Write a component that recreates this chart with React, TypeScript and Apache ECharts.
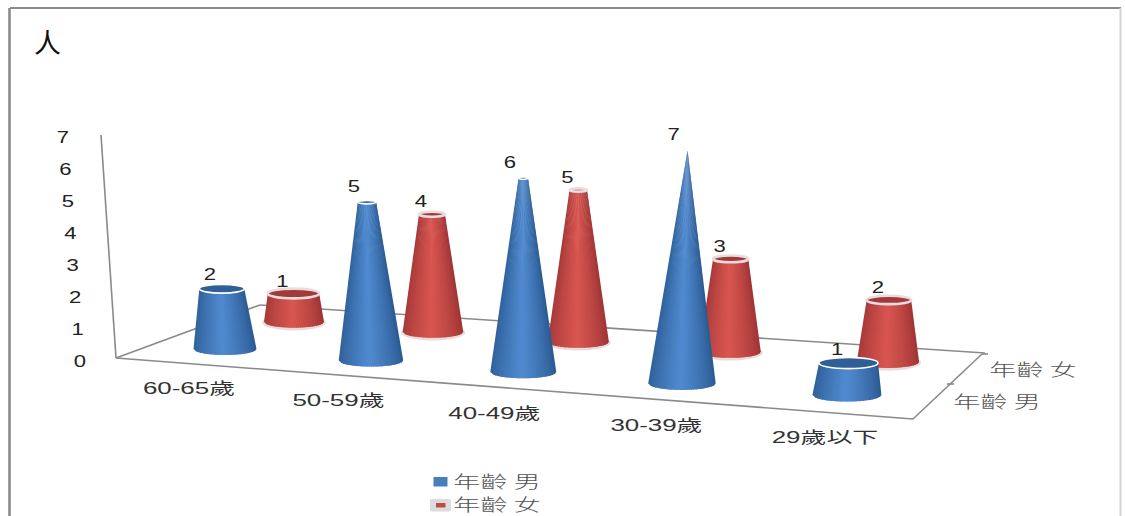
import React, { useEffect, useRef } from "react";
import * as echarts from "echarts";

const categories = ["60-65歲", "50-59歲", "40-49歲", "30-39歲", "29歲以下"];
const maleValues = [2, 5, 6, 7, 1];
const femaleValues = [1, 4, 5, 3, 2];
const seriesNames = ["年齡 男", "年齡 女"];
const valueTicks = [0, 1, 2, 3, 4, 5, 6, 7];
const MAX_VALUE = 7;

const FONT = '"Liberation Sans", "Noto Sans CJK TC", sans-serif';
const CJK = '"Noto Sans CJK TC", sans-serif';

type Palette = { edge: number[]; mid: number[]; cap: string; rim: string; rimW: number; halo: string | null };
const BLUE: Palette = { edge: [44, 92, 148], mid: [80, 138, 208], cap: "#2f5f96", rim: "#ffffff", rimW: 1.6, halo: null };
const RED: Palette = { edge: [160, 54, 54], mid: [217, 86, 80], cap: "#a23a3a", rim: "#eadcdc", rimW: 2.6, halo: "#eadcdc" };

// perspective foreshortening of heights along the floor, front row and back row
const FRONT_SCALE = [0.94, 0.99, 1.01, 1.04, 1];
const BACK_SCALE = [0.89, 0.92, 0.95, 0.97, 0.97];

const mix = (a: number[], b: number[], t: number) =>
  `rgb(${a.map((v, k) => Math.round(v + (b[k] - v) * t)).join(",")})`;

// the floor is in perspective: each category's slot on the axis is bent and sheared by depth
const floorPoint = (axisX: number, axisY: number, i: number, back: boolean) => {
  const x = axisX + 3.17 * i * i - 12.2 * i;
  return back
    ? { x: x + 69 - 7 * i, y: axisY - 38 + 10 * i }
    : { x, y: axisY - 11 + 11.5 * i };
};

const coneItem = (back: boolean, pal: Palette) => (_p: any, api: any) => {
  const i = api.value(0);
  const v = api.value(1);
  const [ax, ay] = api.coord([i, 0]);
  const base = floorPoint(ax, ay, i, back);
  const h = api.size([0, v])[1] * (back ? BACK_SCALE[i] : FRONT_SCALE[i]);
  const rb = back ? 30 + 0.3 * i : 31.5 + 0.75 * i;
  const ryb = rb * 0.19;
  const rt = rb * (1 - v / MAX_VALUE);
  const ryt = rt * 0.19;
  const tx = base.x + (i - 2) * v * (back ? 0.25 : 0.8);
  const ty = base.y - h;
  const children: any[] = [];
  if (pal.halo) {
    children.push({
      type: "ellipse",
      shape: { cx: base.x, cy: base.y + 0.5, rx: rb + 2, ry: ryb + 2.2 },
      style: { fill: pal.halo },
    });
  }
  const N = 30;
  for (let k = 0; k < N; k++) {
    const s0 = -1 + (2 * k) / N;
    const sm = Math.min(1, -1 + (2 * (k + 1.6)) / N);
    const sc = s0 + 1 / N;
    const a = Math.sqrt(Math.max(0, 1 - s0 * s0));
    const b = Math.sqrt(Math.max(0, 1 - sm * sm));
    const shade = Math.pow(Math.max(0, 1 - Math.abs(sc + 0.05)), 0.75);
    children.push({
      type: "polygon",
      shape: {
        points: [
          [tx + rt * s0, ty + ryt * a],
          [base.x + rb * s0, base.y + ryb * a],
          [base.x + rb * sm, base.y + ryb * b],
          [tx + rt * sm, ty + ryt * b],
        ],
      },
      style: { fill: mix(pal.edge, pal.mid, shade) },
    });
  }
  if (rt > 0.5) {
    children.push({
      type: "ellipse",
      shape: { cx: tx, cy: ty, rx: rt, ry: Math.max(ryt, 1.2) },
      style: { fill: pal.cap, stroke: pal.rim, lineWidth: pal.rimW },
    });
  }
  children.push({
    type: "text",
    x: tx - (back ? 11 : 11 + 0.4 * v),
    y: ty - (back ? 13 : 13.5 + 0.45 * v),
    scaleX: 1.3,
    style: { text: String(v), fontFamily: FONT, fontSize: 17, fill: "#222", align: "center", verticalAlign: "middle" },
  });
  return { type: "group", children };
};

const categoryLabelItem = (_p: any, api: any) => {
  const i = api.value(0);
  const [ax, ay] = api.coord([i, 0]);
  const p = floorPoint(ax, ay, i, false);
  return {
    type: "text",
    x: p.x - 36 + 3.5 * i,
    y: p.y + 40 + 0.7 * i,
    scaleX: 1.62,
    style: { text: categories[i], fontFamily: FONT, fontSize: 16, fill: "#333", align: "center", verticalAlign: "middle" },
  };
};

const valueLabelItem = (_p: any, api: any) => {
  const v = api.value(1);
  const y = api.coord([0, v])[1];
  return {
    type: "text",
    x: 80 - 2.43 * v,
    y: y + 0.5,
    scaleX: 1.3,
    style: { text: String(v), fontFamily: FONT, fontSize: 17, fill: "#222", align: "center", verticalAlign: "middle" },
  };
};

const AXIS = { stroke: "#8a8a8a", lineWidth: 1.6 };
const line = (x1: number, y1: number, x2: number, y2: number, style: any = AXIS) => ({
  type: "line",
  z: 1,
  shape: { x1, y1, x2, y2 },
  style,
});
const stretched = (text: string, x: number, y: number) => ({
  type: "text",
  z: 1,
  x,
  y,
  scaleX: 1.6,
  style: { text, fontFamily: CJK, fontWeight: 300, fontSize: 17, fill: "#555", align: "center", verticalAlign: "middle" },
});

export default function App() {
  const ref = useRef<HTMLDivElement>(null);
  useEffect(() => {
    document.body.style.margin = "0";
    const chart = echarts.init(ref.current!, undefined, { renderer: "svg" });
    chart.setOption({
      animation: false,
      backgroundColor: "#fff",
      title: {
        text: "人",
        left: 29,
        top: 23,
        textStyle: { fontFamily: CJK, fontSize: 27, fontWeight: 400, color: "#111" },
      },
      grid: { left: 147.5, width: 775, top: 136, height: 224 },
      xAxis: { type: "category", data: categories, show: false },
      yAxis: { type: "value", min: 0, max: MAX_VALUE, interval: 1, show: false },
      graphic: [
        line(10, 8, 1121, 8, { stroke: "#8a8a8a", lineWidth: 2 }),
        line(9.5, 8, 9.5, 516, { stroke: "#8a8a8a", lineWidth: 2.6 }),
        line(1120.5, 8, 1120.5, 516, { stroke: "#d4d4d4", lineWidth: 2 }),
        line(101, 135, 116, 358),
        line(116, 358, 260, 305),
        line(116, 358, 913, 419),
        line(260, 305, 985, 353),
        line(913, 419, 982, 354),
        line(947, 384, 954, 384),
        line(982, 354, 988, 354),
        stretched(seriesNames[1], 1033, 369),
        stretched(seriesNames[0], 997, 401),
        { type: "rect", z: 1, shape: { x: 433.5, y: 477, width: 14, height: 9.5 }, style: { fill: "#4a7ebb" } },
        stretched(seriesNames[0], 497, 481),
        { type: "rect", z: 1, shape: { x: 430, y: 499, width: 21, height: 12.5, r: 2 }, style: { fill: "#dcdcdc" } },
        { type: "rect", z: 1, shape: { x: 436, y: 503, width: 9.5, height: 4.5 }, style: { fill: "#be4b48" } },
        stretched(seriesNames[1], 497, 504),
      ],
      series: [
        {
          type: "custom",
          name: seriesNames[1],
          z: 3,
          renderItem: coneItem(true, RED),
          data: femaleValues.map((v, i) => [i, v]),
        },
        {
          type: "custom",
          name: seriesNames[0],
          z: 4,
          renderItem: coneItem(false, BLUE),
          data: maleValues.map((v, i) => [i, v]),
        },
        {
          type: "custom",
          z: 5,
          renderItem: categoryLabelItem,
          data: categories.map((_, i) => [i, 0]),
        },
        {
          type: "custom",
          z: 5,
          renderItem: valueLabelItem,
          data: valueTicks.map((v) => [0, v]),
        },
      ],
    });
    return () => chart.dispose();
  }, []);
  return <div ref={ref} style={{ position: "absolute", left: 0, top: 0, width: 1125, height: 516 }} />;
}
